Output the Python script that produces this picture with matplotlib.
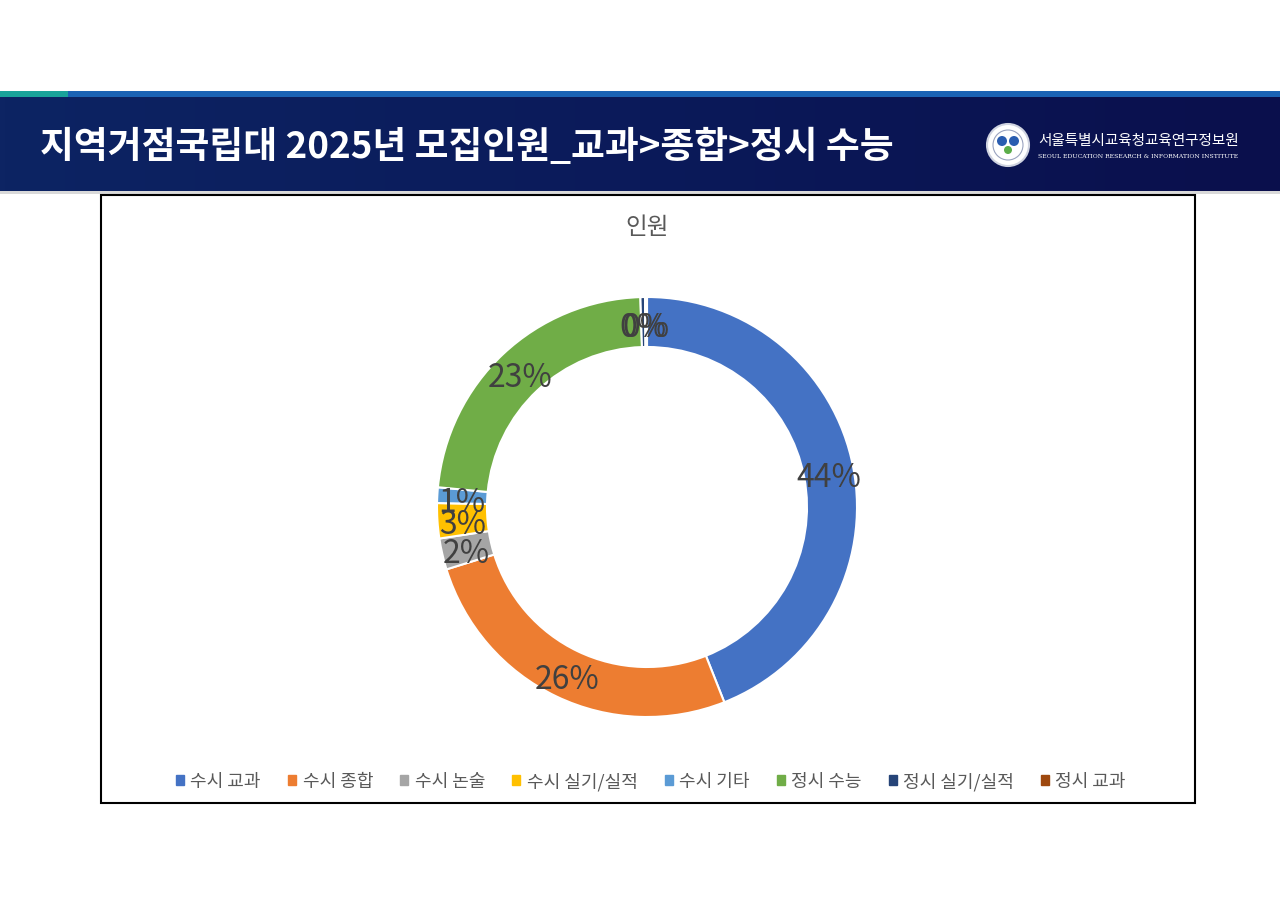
import numpy as np
import matplotlib
matplotlib.use("Agg")
import matplotlib.pyplot as plt
from matplotlib.patches import Rectangle, Circle
from matplotlib.colors import LinearSegmentedColormap

plt.rcParams['font.family'] = ['Noto Sans CJK KR', 'DejaVu Sans']

# ---- data ----
title = "지역거점국립대 2025년 모집인원_교과>종합>정시 수능"
chart_title = "인원"
categories = ["수시 교과", "수시 종합", "수시 논술", "수시 실기/실적",
              "수시 기타", "정시 수능", "정시 실기/실적", "정시 교과"]
values = [44.0, 26.2, 2.4, 2.7, 1.2, 23.0, 0.35, 0.15]
colors = ["#4472C4", "#ED7D31", "#A5A5A5", "#FFC000",
          "#5B9BD5", "#70AD47", "#264478", "#9E480E"]
org_name = "서울특별시교육청교육연구정보원"
org_sub = "SEOUL EDUCATION RESEARCH & INFORMATION INSTITUTE"

W, H = 1280, 904
fig = plt.figure(figsize=(W / 100, H / 100), dpi=100)
fig.patch.set_facecolor("white")

def fx(x):
    return x / W

def fy(y):
    return 1 - y / H

# ---- header band ----
bg = fig.add_axes([0, 0, 1, 1], zorder=0)
bg.axis("off")
grad = np.linspace(0, 1, 256).reshape(1, -1)
cm = LinearSegmentedColormap.from_list("hdr", ["#0d2463", "#0b1a5a", "#0a0f4c"])
bg.imshow(grad, extent=[0, W, 192, 98], aspect="auto", cmap=cm, zorder=1)
bg.add_patch(Rectangle((0, 92), W, 6, color="#1b63b5", zorder=2, lw=0))
bg.add_patch(Rectangle((0, 92), 68, 6, color="#1aa39a", zorder=3, lw=0))
bg.add_patch(Rectangle((0, 192), W, 3, color="#d9d9d9", zorder=2, lw=0))
bg.set_xlim(0, W)
bg.set_ylim(H, 0)

bg.text(40, 147, title, color="white", fontsize=26.5, fontweight="bold",
        va="center", ha="left", zorder=5)

# logo
bg.add_patch(Circle((1008, 146), 21, facecolor="white", edgecolor="#cfd3e0", lw=1.5, zorder=5))
bg.add_patch(Circle((1008, 146), 15, facecolor="white", edgecolor="#9aa3bf", lw=0.8, zorder=6))
bg.add_patch(Circle((1002, 142), 5, facecolor="#2a5db0", lw=0, zorder=7))
bg.add_patch(Circle((1014, 142), 5, facecolor="#2a5db0", lw=0, zorder=7))
bg.add_patch(Circle((1008, 151), 4, facecolor="#5cae4a", lw=0, zorder=7))
bg.text(1038, 141, org_name, color="white", fontsize=10.5, va="center", ha="left", zorder=5)
bg.text(1038, 156, org_sub, color="white", fontsize=4.4, va="center", ha="left",
        family=["DejaVu Serif"], zorder=5)

# chart border
bg.add_patch(Rectangle((101, 196), 1094, 608, fill=False, edgecolor="black", lw=1.5, zorder=4))

# chart title
bg.text(647, 228, chart_title, color="#595959", fontsize=17, va="center", ha="center", zorder=5)

# ---- donut ----
cx, cy, R = 647, 508, 210
ax = fig.add_axes([fx(cx - R), fy(cy + R), 2 * R / W, 2 * R / H], zorder=2)
wedges, texts, autotexts = ax.pie(
    values, colors=colors, startangle=90, counterclock=False, radius=1.0,
    wedgeprops=dict(width=50 / R, edgecolor="white", linewidth=1.5),
    autopct="%.0f%%", pctdistance=(R - 25) / R,
    textprops=dict(color="#404040", fontsize=23))
for t in autotexts:
    x, y = t.get_position()
    t.set_position((x, y - 5 / R))
ax.set_xlim(-1, 1)
ax.set_ylim(-1, 1)
ax.set_aspect("equal")
ax.axis("off")

# ---- legend ----
handles = [Rectangle((0, 0), 1, 1, color=c) for c in colors]
leg = fig.legend(handles, categories, loc="center", bbox_to_anchor=(fx(651), fy(782)),
                 ncol=len(categories), frameon=False, fontsize=13,
                 handlelength=0.45, handleheight=0.45, handletextpad=0.35,
                 columnspacing=1.5, labelcolor="#595959")

fig.savefig("out.png", dpi=100, facecolor="white")
